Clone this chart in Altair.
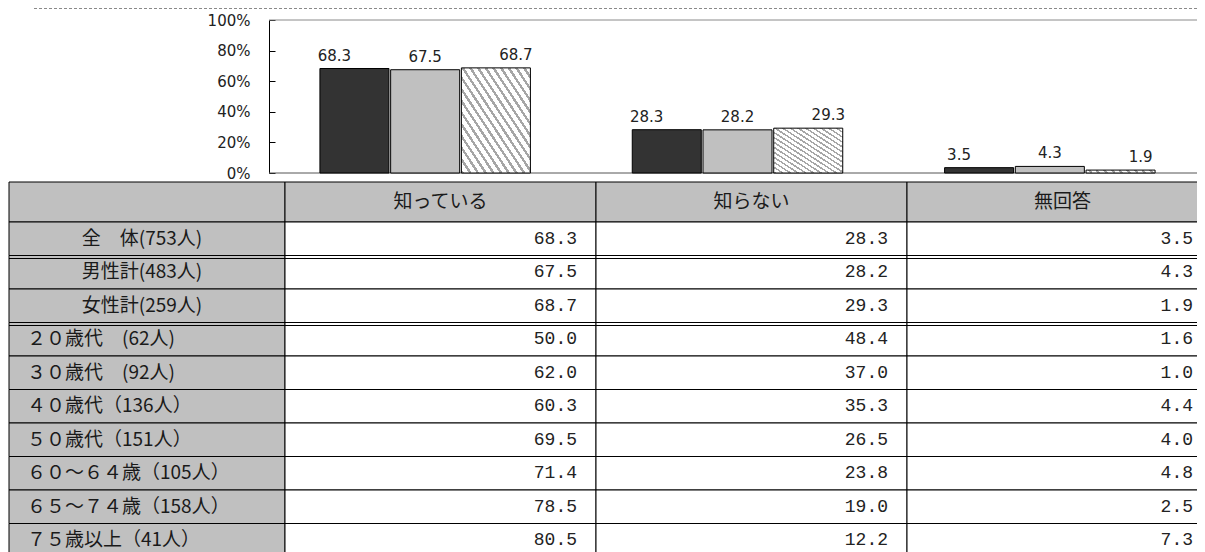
import altair as alt
import pandas as pd

# ---------------- data ----------------
groups = ["知っている", "知らない", "無回答"]
row_labels = ["全　体(753人)", "男性計(483人)", "女性計(259人)",
              "２０歳代　(62人)", "３０歳代　(92人)", "４０歳代（136人）",
              "５０歳代（151人）", "６０～６４歳（105人）", "６５～７４歳（158人）",
              "７５歳以上（41人）"]
know = [68.3, 67.5, 68.7, 50.0, 62.0, 60.3, 69.5, 71.4, 78.5, 80.5]
dont_know = [28.3, 28.2, 29.3, 48.4, 37.0, 35.3, 26.5, 23.8, 19.0, 12.2]
no_answer = [3.5, 4.3, 1.9, 1.6, 1.0, 4.4, 4.0, 4.8, 2.5, 7.3]
chart_series = row_labels[:3]
y_ticks = [0, 20, 40, 60, 80, 100]
double_line_rows = [row_labels[0], row_labels[2]]

# ---------------- layout (pixels, plot coordinates) ----------------
W = 1188          # visible plot width (page content is clipped at the window edge)
LABEL_W = 276     # first table column
COL_W = 311       # data column width
AXIS_X = 260      # bar chart y axis position
BAR_RIGHT = 1197  # right end of bar chart plot
BAR_H = 153
TABLE_TOP = 162
HEAD_H = 40
BODY_BOTTOM = 537

JP = "Noto Sans CJK JP"
MONO = "Liberation Mono"
LAT = "DejaVu Sans"

values_by_col = {groups[0]: know, groups[1]: dont_know, groups[2]: no_answer}
long_df = pd.DataFrame([
    {"row": r, "ri": i, "col": g, "value": values_by_col[g][i]}
    for g in groups for i, r in enumerate(row_labels)
])
bars_df = long_df[long_df["ri"] < 3]
rows_df = pd.DataFrame({"row": row_labels, "ri": list(range(len(row_labels)))})
cols_df = pd.DataFrame({"col": groups})

# ---------------- scales ----------------
bar_x = alt.X("col:N", axis=None,
              scale=alt.Scale(domain=groups, range=[AXIS_X, BAR_RIGHT],
                              paddingInner=0, paddingOuter=0))
bar_xo = alt.XOffset("row:N",
                     scale=alt.Scale(domain=chart_series, paddingInner=0.024,
                                     paddingOuter=0.72))
bar_y_scale = alt.Scale(domain=[0, 100], range=[BAR_H, 0], nice=False)

lab_x_scale = alt.Scale(domain=["L"], range=[0, LABEL_W], paddingInner=0, paddingOuter=0)
val_x_scale = alt.Scale(domain=groups, range=[LABEL_W, LABEL_W + 3 * COL_W],
                        paddingInner=0, paddingOuter=0)
hdr_y_scale = alt.Scale(domain=["H"], range=[TABLE_TOP, TABLE_TOP + HEAD_H],
                        paddingInner=0, paddingOuter=0)
body_y_scale = alt.Scale(domain=row_labels, range=[TABLE_TOP + HEAD_H, BODY_BOTTOM],
                         paddingInner=0, paddingOuter=0)

# hatch as a striped gradient
hatch_stops = []
N = 18
for k in range(N):
    a, b, c = k / N, (k + 0.36) / N, (k + 1) / N
    hatch_stops += [alt.GradientStop(offset=a, color="#a6a6a6"),
                    alt.GradientStop(offset=b, color="#a6a6a6"),
                    alt.GradientStop(offset=b, color="#ffffff"),
                    alt.GradientStop(offset=c, color="#ffffff")]
hatch = alt.LinearGradient(gradient="linear", stops=hatch_stops, x1=0, y1=1, x2=1, y2=0)

# ---------------- bar chart ----------------
left_axis = alt.Axis(orient="left", offset=-241, values=y_ticks,
                     labelExpr="datum.value + '%'", ticks=False, tickSize=0,
                     domain=False, grid=False, labelPadding=0, labelFlush=False,
                     labelFont=LAT, labelFontSize=15, labelColor="#222", title=None)
tick_axis = alt.Axis(orient="right", offset=-(W - AXIS_X), values=y_ticks,
                     labels=False, ticks=True, tickSize=6, tickColor="#000",
                     domain=True, domainColor="#000", grid=False, title=None)

dashed = alt.Chart(alt.Data(values=[{}])).mark_rule(
    color="#8a8a8a", strokeDash=[3, 2]).encode(
    x=alt.value(25), x2=alt.value(W), y=alt.value(-11.5))

frame_df = pd.DataFrame({"v": [100, 0], "edge": ["top", "bottom"]})
frame = alt.Chart(frame_df).mark_rule(strokeWidth=1).encode(
    y=alt.Y("v:Q", scale=bar_y_scale, axis=None),
    x=alt.value(AXIS_X), x2=alt.value(W),
    color=alt.Color("edge:N", scale=alt.Scale(domain=["top", "bottom"],
                                              range=["#8a8a8a", "#555555"]), legend=None))

solid = alt.Chart(bars_df).transform_filter(
    alt.FieldOneOfPredicate(field="row", oneOf=chart_series[:2])
).mark_bar(stroke="#000", strokeWidth=1).encode(
    x=bar_x, xOffset=bar_xo,
    y=alt.Y("value:Q", scale=bar_y_scale, axis=left_axis),
    fill=alt.Fill("row:N", scale=alt.Scale(domain=chart_series[:2],
                                           range=["#333333", "#c0c0c0"]), legend=None))

hatched = alt.Chart(bars_df).transform_filter(
    alt.FieldEqualPredicate(field="row", equal=chart_series[2])
).mark_bar(stroke="#000", strokeWidth=1, fill=hatch).encode(
    x=bar_x, xOffset=bar_xo,
    y=alt.Y("value:Q", scale=bar_y_scale, axis=None))

bar_labels = alt.Chart(bars_df).mark_text(
    font=LAT, fontSize=15, color="#222", baseline="alphabetic", dy=-8).encode(
    x=bar_x, xOffset=bar_xo,
    y=alt.Y("value:Q", scale=bar_y_scale, axis=tick_axis),
    text=alt.Text("value:Q", format=".1f"))

# ---------------- table ----------------
hdr_lab = alt.Chart(alt.Data(values=[{}])).transform_calculate(
    c="'L'", h="'H'").mark_rect(fill="#c0c0c0", stroke="#000", strokeWidth=1).encode(
    x=alt.X("c:N", scale=lab_x_scale, axis=None),
    y=alt.Y("h:N", scale=hdr_y_scale, axis=None))

hdr_rect = alt.Chart(cols_df).transform_calculate(h="'H'").mark_rect(
    fill="#c0c0c0", stroke="#000", strokeWidth=1).encode(
    x=alt.X("col:N", scale=val_x_scale, axis=None),
    y=alt.Y("h:N", scale=hdr_y_scale, axis=None))

hdr_text = alt.Chart(cols_df).transform_calculate(h="'H'").mark_text(
    font=JP, fontSize=19, color="#1a1a1a").encode(
    x=alt.X("col:N", scale=val_x_scale, axis=None),
    y=alt.Y("h:N", scale=hdr_y_scale, axis=None),
    text="col:N")

lab_rect = alt.Chart(rows_df).transform_calculate(c="'L'").mark_rect(
    fill="#c0c0c0", stroke="#000", strokeWidth=1).encode(
    x=alt.X("c:N", scale=lab_x_scale, axis=None),
    y=alt.Y("row:N", scale=body_y_scale, axis=None))

lab_text_top = alt.Chart(rows_df).transform_filter("datum.ri < 3").transform_calculate(
    c="'L'").mark_text(font=JP, fontSize=19, color="#1a1a1a", dx=-5).encode(
    x=alt.X("c:N", scale=lab_x_scale, axis=None),
    y=alt.Y("row:N", scale=body_y_scale, axis=None),
    text="row:N")

lab_text_age = alt.Chart(rows_df).transform_filter("datum.ri >= 3").transform_calculate(
    c="'L'").mark_text(font=JP, fontSize=19, color="#1a1a1a", align="left",
                       dx=-LABEL_W / 2 + 18).encode(
    x=alt.X("c:N", scale=lab_x_scale, axis=None),
    y=alt.Y("row:N", scale=body_y_scale, axis=None),
    text="row:N")

val_rect = alt.Chart(long_df).mark_rect(fill="#ffffff", stroke="#000", strokeWidth=1).encode(
    x=alt.X("col:N", scale=val_x_scale, axis=None),
    y=alt.Y("row:N", scale=body_y_scale, axis=None))

val_text_main = alt.Chart(long_df).transform_filter(
    alt.FieldOneOfPredicate(field="col", oneOf=groups[:2])
).mark_text(
    font=MONO, fontSize=18, color="#222", align="right", dx=COL_W / 2 - 19).encode(
    x=alt.X("col:N", scale=val_x_scale, axis=None),
    y=alt.Y("row:N", scale=body_y_scale, axis=None),
    text=alt.Text("value:Q", format=".1f"))

# last column is cut by the window edge: keep its numbers just inside it
val_text_last = alt.Chart(long_df).transform_filter(
    alt.FieldEqualPredicate(field="col", equal=groups[2])
).mark_text(
    font=MONO, fontSize=18, color="#222", align="right", dx=COL_W / 2 - 25).encode(
    x=alt.X("col:N", scale=val_x_scale, axis=None),
    y=alt.Y("row:N", scale=body_y_scale, axis=None),
    text=alt.Text("value:Q", format=".1f"))

dbl = alt.Chart(rows_df).transform_filter(
    alt.FieldOneOfPredicate(field="row", oneOf=double_line_rows)
).mark_rule(color="#000", strokeWidth=1, yOffset=3).encode(
    x=alt.value(0), x2=alt.value(W),
    y=alt.Y("row:N", scale=body_y_scale, axis=None, bandPosition=1))

chart = alt.layer(
    dashed, frame, solid, hatched, bar_labels,
    hdr_lab, hdr_rect, hdr_text, lab_rect, lab_text_top, lab_text_age,
    val_rect, val_text_main, val_text_last, dbl
).resolve_scale(
    x="independent", y="independent", xOffset="independent"
).properties(
    width=W, height=BODY_BOTTOM,
    padding={"left": 1, "top": 12, "right": 0, "bottom": 0},
    autosize=alt.AutoSizeParams(type="none")
).configure_view(stroke="transparent")

chart.save("out.html", embed_options={"renderer": "svg", "actions": False})
